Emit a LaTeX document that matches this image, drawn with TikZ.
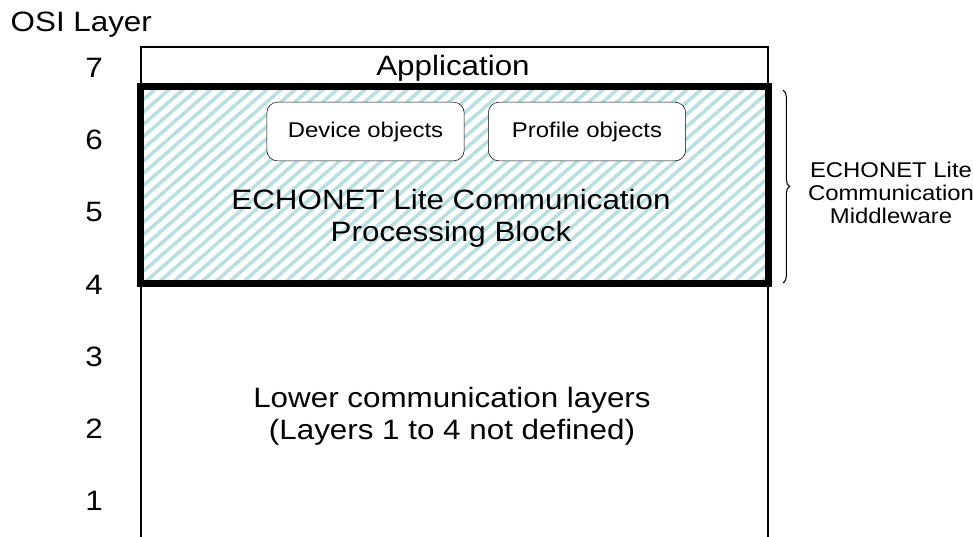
\documentclass[tikz,border=0pt]{standalone}
\usepackage{fontspec}
\setmainfont[FakeStretch=1.12]{Liberation Sans}
\usetikzlibrary{positioning,calc,fit,decorations.pathreplacing}
\definecolor{stripe}{RGB}{184,224,226}

\begin{document}
\begin{tikzpicture}[x=0.75pt,y=-0.75pt,
  objbox/.style={draw, rectangle, rounded corners=8pt, fill=white, minimum width=148pt, minimum height=44pt, font=\fontsize{16}{18}\selectfont},
  layernum/.style={font=\fontsize{21}{24}\selectfont},
  bigtext/.style={align=center, font=\fontsize{21}{24}\selectfont}]
\useasboundingbox (0,0) rectangle (973,536);
% stack outline
\coordinate (tl) at (141,47);
\coordinate (tr) at (768,47);
\draw[-, line width=1.1pt] (141,540) -- (tl) -- (tr) -- (768,540);
% hatched block
\begin{scope}
\clip (140.5,86.5) rectangle (768.5,283.5);
\fill[white] (140.5,86.5) rectangle (768.5,283.5);
\foreach \i in {-200,-186,...,800} {
  \draw[stripe, line width=2.6pt] (\i,290) -- (\i+240,80);
}
\end{scope}
\node[draw, line width=5.25pt, rectangle, outer sep=0pt, minimum width=471pt, minimum height=147.75pt] (mw) at (454.5,185) {};
\node[objbox] (dev) at (365.5,131.5) {Device objects};
\node[objbox] (prof) at (587,131.5) {Profile objects};
\node[bigtext] (app) at (453,68) {Application};
\node[bigtext] (proc) at (451,218) {ECHONET Lite Communication\\Processing Block};
\node[bigtext] (low) at (452,416) {Lower communication layers\\(Layers 1 to 4 not defined)};
% layer numbers
\node[layernum, anchor=west] (osi) at (6,25) {OSI Layer};
\foreach \n/\y in {7/68,6/140,5/212,4/285,3/357,2/429,1/501} {
  \node[layernum] (l\n) at (94,\y) {\n};
}
% middleware brace
\coordinate (bt) at (783,90);
\coordinate (bb) at (783,283);
\draw[decorate, decoration={brace, amplitude=5pt}, line width=0.8pt] (bt) -- (bb);
\node[align=center, font=\fontsize{16}{17.5}\selectfont] (mwlabel) at (891,193) {ECHONET Lite\\Communication\\Middleware};
\end{tikzpicture}
\end{document}
